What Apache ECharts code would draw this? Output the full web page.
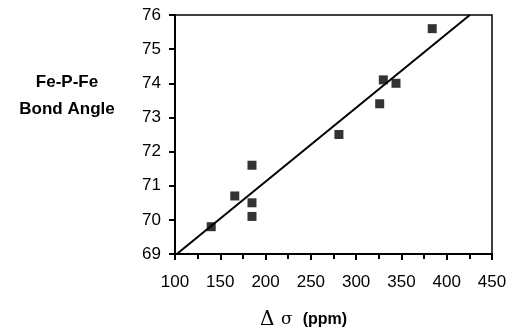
<!DOCTYPE html>
<html>
<head>
<meta charset="utf-8">
<script src="https://cdn.jsdelivr.net/npm/echarts@6/dist/echarts.min.js"></script>
<style>
  html, body { margin: 0; padding: 0; background: #fff; }
  #chart { width: 508px; height: 331px; }
</style>
</head>
<body>
<div id="chart"></div>
<script>
// measured points: chemical shift anisotropy (ppm) vs Fe-P-Fe angle
const deltaSigma = [140, 166, 185, 185, 185, 281, 326, 330, 344, 384]
const bondAngle = [69.8, 70.7, 71.6, 70.5, 70.1, 72.5, 73.4, 74.1, 74.0, 75.6]

// fitted line end points
const fitX = [102, 425.5]
const fitY = [69, 76]

const INK = '#000'
const FONT = 'Liberation Sans, Arial, sans-serif'

const chart = echarts.init(document.getElementById('chart'), null, { renderer: 'canvas' })

const tickStyle = { color: INK, width: 2 }

chart.setOption({
  backgroundColor: '#fff',
  animation: false,
  title: {
    text: 'Fe-P-Fe\nBond Angle',
    left: 62,
    top: 64,
    textAlign: 'center',
    textStyle: {
      color: INK,
      fontSize: 17,
      fontWeight: 'bold',
      fontFamily: FONT,
      lineHeight: 27,
      align: 'center',
    },
  },
  grid: {
    left: 175,
    right: 16,
    top: 15,
    bottom: 77,
    outerBoundsMode: 'none',
    containLabel: false,
    show: true,
    borderColor: INK,
    borderWidth: 1.5,
  },
  xAxis: {
    type: 'value',
    min: 100,
    max: 450,
    interval: 50,
    axisLine: { show: true, onZero: false, lineStyle: { color: INK, width: 2 } },
    axisTick: { show: true, inside: false, length: 6, lineStyle: tickStyle },
    minorTick: { show: true, splitNumber: 2, length: 5, lineStyle: tickStyle },
    splitLine: { show: false },
    axisLabel: { color: INK, fontSize: 17, fontFamily: FONT, margin: 20 },
    name: '{a|Δ}  {s|σ}   {b|(ppm)}',
    nameLocation: 'middle',
    nameGap: 56,
    nameTextStyle: {
      padding: [0, 60, 0, 0],
      rich: {
        a: { fontSize: 20, fontFamily: 'DejaVu Serif, serif', color: INK },
        s: { fontSize: 17, fontFamily: 'DejaVu Serif, serif', color: INK },
        b: { fontSize: 16, fontWeight: 'bold', fontFamily: FONT, color: INK },
      },
    },
  },
  yAxis: {
    type: 'value',
    min: 69,
    max: 76,
    interval: 1,
    axisLine: { show: true, onZero: false, lineStyle: { color: INK, width: 2 } },
    axisTick: { show: true, inside: false, length: 6, lineStyle: tickStyle },
    splitLine: { show: false },
    axisLabel: { color: INK, fontSize: 17, fontFamily: FONT, margin: 14 },
  },
  series: [
    {
      type: 'line',
      data: fitX.map((x, i) => [x, fitY[i]]),
      showSymbol: false,
      lineStyle: { color: INK, width: 2 },
      z: 2,
    },
    {
      type: 'scatter',
      data: deltaSigma.map((x, i) => [x, bondAngle[i]]),
      symbol: 'rect',
      symbolSize: 9,
      itemStyle: { color: INK },
      z: 3,
    },
  ],
})
</script>
</body>
</html>
